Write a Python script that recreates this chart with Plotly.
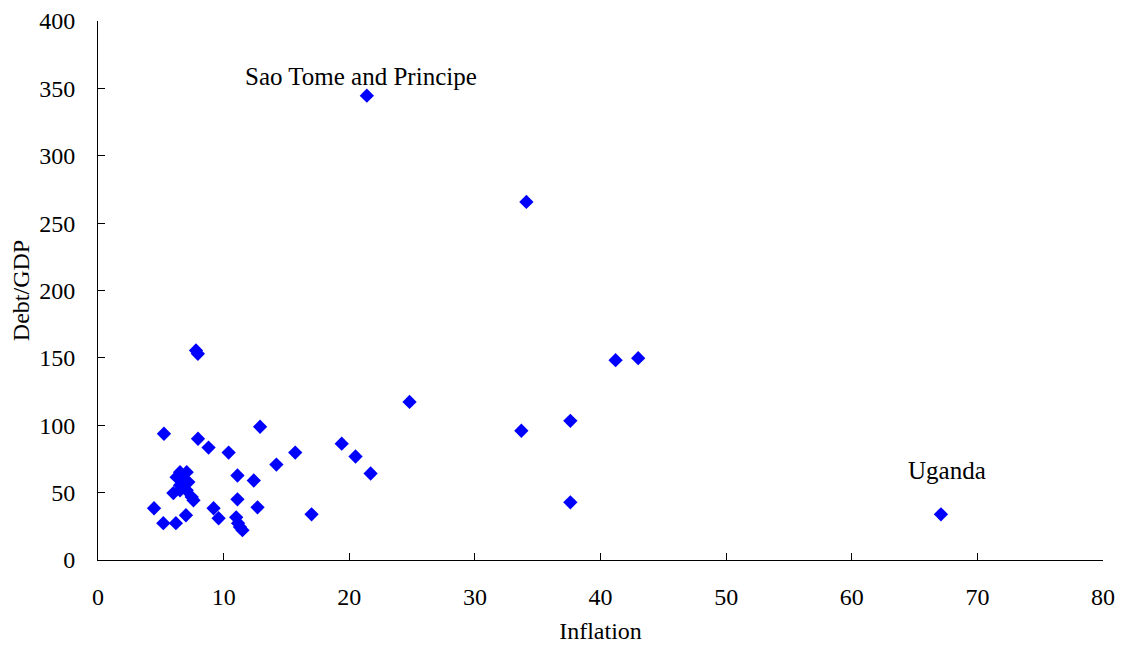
import plotly.graph_objects as go

inflation = [21.4, 34.1, 7.8, 7.95, 41.2, 43.0, 24.8, 37.6, 33.7, 5.25, 12.9, 7.96, 8.8, 10.4,
             15.7, 19.4, 20.5, 14.2, 21.7, 11.1, 12.4, 11.1, 12.7, 17.0, 37.6, 67.1, 4.46, 5.2,
             6.2, 7.0, 9.2, 9.6, 11.0, 11.15, 11.3, 11.5,
             6.53, 7.06, 6.26, 6.8, 7.19, 6.53, 6.0, 6.53, 7.06, 7.46, 7.6]
debt_gdp = [344.6, 265.7, 155.5, 153.0, 148.3, 149.8, 117.3, 103.3, 95.9, 93.7, 98.9, 90.0, 83.4, 79.7,
            79.7, 86.3, 76.8, 70.8, 64.2, 62.7, 59.0, 45.0, 39.1, 33.9, 42.8, 33.9, 38.4, 27.3,
            27.3, 33.2, 38.4, 31.0, 31.7, 27.3, 24.4, 22.1,
            65.2, 65.2, 61.5, 60.3, 57.8, 55.4, 49.7, 51.7, 51.7, 46.7, 44.3]

labels = ["Sao Tome and Principe", "Uganda"]
label_x = [20.9, 67.6]
label_y = [358.7, 66.4]

font = dict(family="Liberation Serif, Times New Roman, serif", size=24, color="black")
label_font = dict(family="Liberation Serif, Times New Roman, serif", size=25, color="black")

fig = go.Figure()
fig.add_trace(go.Scatter(
    x=inflation, y=debt_gdp, mode="markers",
    marker=dict(symbol="diamond", size=11, color="#0000FF", line=dict(width=0)),
    showlegend=False,
))

for t, lx, ly in zip(labels, label_x, label_y):
    fig.add_annotation(x=lx, y=ly, text=t, showarrow=False, font=label_font,
                       xanchor="center", yanchor="middle")

fig.update_layout(
    width=1110, height=636,
    margin=dict(l=90, r=15, t=13, b=84),
    paper_bgcolor="white", plot_bgcolor="white",
    font=font,
)
fig.update_xaxes(
    range=[0, 80], dtick=10, tick0=0,
    showline=True, linecolor="black", linewidth=1,
    ticks="inside", ticklen=7, tickcolor="black",
    showgrid=False, zeroline=False, automargin=False,
    ticklabelstandoff=15, ticklabeloverflow="allow",
    title=dict(text="Inflation", font=font, standoff=15),
)
fig.update_yaxes(
    range=[0, 400], dtick=50, tick0=0,
    showline=True, linecolor="black", linewidth=1,
    ticks="inside", ticklen=7, tickcolor="black",
    showgrid=False, zeroline=False, automargin=False,
    ticklabelstandoff=17, ticklabeloverflow="allow",
    title=dict(text="Debt/GDP", font=font, standoff=5),
)

fig.write_html("out.html")
